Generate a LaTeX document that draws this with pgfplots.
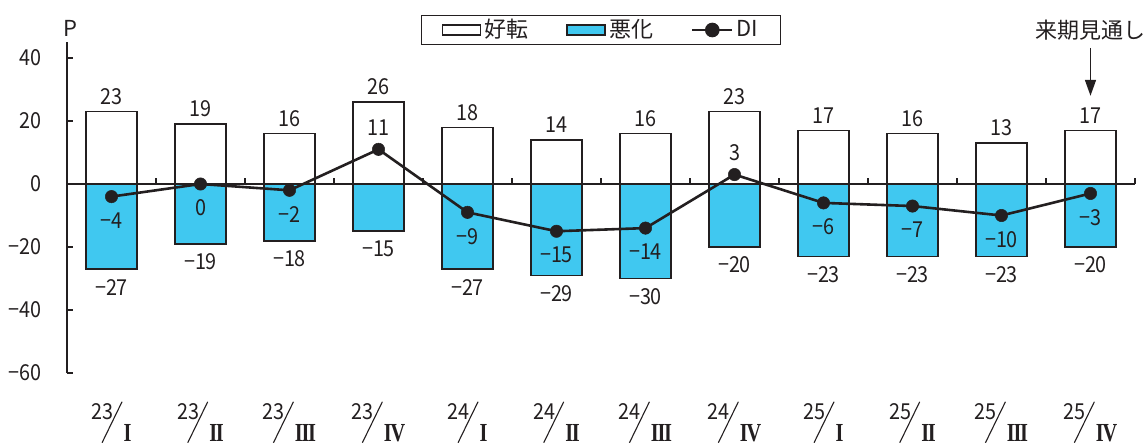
\documentclass[border=0pt]{standalone}
\usepackage{fontspec}
\usepackage{pgfplots}
\usepackage{pgfplotstable}
\pgfplotsset{compat=1.18}
\usetikzlibrary{arrows.meta}
\setmainfont{Noto Sans CJK JP}
\newfontfamily\numfont{Noto Sans CJK JP}[FakeStretch=0.9]
\newfontfamily\romfont{Liberation Serif}[FakeStretch=0.78, LetterSpace=-5]
\definecolor{worse}{HTML}{40C8F0}
\definecolor{ink}{HTML}{231F20}

% quarter label: year raised, a long thin slash, roman quarter on the baseline
\newcommand{\qlab}[2]{%
  \raisebox{22bp}{#1}\kern-12bp%
  \tikz[baseline=0pt]\draw[ink, line width=1.1bp] (0bp,-1bp) -- (20bp,40bp);%
  \kern1bp{\romfont\bfseries\fontsize{26bp}{26bp}\selectfont #2}}

\pgfplotstableread{
x good bad di goodlab badlab
0 23 -27 -4 23 −27
1 19 -19 0 19 −19
2 16 -18 -2 16 −18
3 26 -15 11 26 −15
4 18 -27 -9 18 −27
5 14 -29 -15 14 −29
6 16 -30 -14 16 −30
7 23 -20 3 23 −20
8 17 -23 -6 17 −23
9 16 -23 -7 16 −23
10 13 -23 -10 13 −23
11 17 -20 -3 17 −20
}\dichart

\begin{document}
\fontsize{22bp}{26bp}\selectfont
\begin{tikzpicture}
\useasboundingbox (-67bp,-73bp) rectangle (1078bp,373bp);
\begin{axis}[
  scale only axis,
  width=1068bp, height=330.75bp,
  xmin=-0.5, xmax=11.5, ymin=-60, ymax=45,
  clip=false,
  axis y line*=left, axis x line*=bottom,
  x axis line style={draw=none},
  y axis line style={draw=ink, line width=1.2bp},
  xtick={0,...,11},
  xticklabels={\qlab{23}{I},\qlab{23}{II},\qlab{23}{III},\qlab{23}{IV},
               \qlab{24}{I},\qlab{24}{II},\qlab{24}{III},\qlab{24}{IV},
               \qlab{25}{I},\qlab{25}{II},\qlab{25}{III},\qlab{25}{IV}},
  major x tick style={draw=none},
  ytick={-60,-40,-20,0,20,40},
  yticklabels={−60,−40,−20,0,20,40},
  tick align=inside, major tick length=6bp,
  ytick style={draw=ink, line width=1.2bp},
  yticklabel style={anchor=east, inner sep=0pt, xshift=-25bp, font=\numfont, text=ink},
  xticklabel style={anchor=north, inner sep=0pt, yshift=-28bp, font=\numfont, text=ink},
  legend columns=-1,
  legend style={at={(0.5,1.037)}, anchor=center, draw=ink, line width=1.2bp,
    inner xsep=20bp, inner ysep=2bp, text=ink,
    /tikz/every odd column/.append style={column sep=1bp},
    /tikz/every even column/.append style={column sep=36bp}},
]
% improved share (white) and worsened share (blue), both from the zero line
\addplot[ybar, bar width=51bp, bar shift=0pt, draw=ink, fill=white, line width=1.6bp,
  legend image code/.code={\draw[draw=ink, fill=white, line width=1.6bp] (0bp,-5bp) rectangle (38bp,5bp);}]
  table[x=x, y=good] {\dichart};
\addlegendentry{好転}
\addplot[ybar, bar width=51bp, bar shift=0pt, draw=ink, fill=worse, line width=1.6bp,
  legend image code/.code={\draw[draw=ink, fill=worse, line width=1.6bp] (0bp,-5bp) rectangle (38bp,5bp);}]
  table[x=x, y=bad] {\dichart};
\addlegendentry{悪化}

% zero line with small separators between quarters
\draw[ink, line width=1.2bp] (axis cs:-0.5,0) -- (axis cs:11.5,0);
\pgfplotsinvokeforeach{0.5,1.5,2.5,3.5,4.5,5.5,6.5,7.5,8.5,9.5,10.5,11.5}{
  \draw[ink, line width=1.2bp] (axis cs:#1,0) -- (axis cs:#1,1.9);
}

% diffusion index
\addplot[ink, line width=2.6bp, mark=*, mark size=6.2bp,
  mark options={fill=ink, draw=ink, line width=0.5bp},
  legend image code/.code={\draw[ink, line width=2.6bp] (0bp,0bp) -- (40bp,0bp); \fill[ink] (20bp,0bp) circle (6bp);}]
  table[x=x, y=di] {\dichart};
\addlegendentry{DI}

% value labels
\addplot[forget plot, draw=none, mark=none, nodes near coords, point meta=explicit symbolic,
  nodes near coords style={anchor=center, yshift=15bp, font=\numfont, text=ink}]
  table[x=x, y=good, meta=goodlab] {\dichart};
\addplot[forget plot, draw=none, mark=none, nodes near coords, point meta=explicit symbolic,
  nodes near coords style={anchor=center, yshift=-18bp, font=\numfont, text=ink}]
  table[x=x, y=bad, meta=badlab] {\dichart};
\addplot[forget plot, draw=none, mark=none, nodes near coords, point meta=explicit symbolic,
  nodes near coords style={anchor=center, yshift=-24bp, font=\numfont, text=ink}]
  coordinates {(0,-4) [−4] (1,0) [0] (2,-2) [−2] (4,-9) [−9] (5,-15) [−15] (6,-14) [−14]
               (8,-6) [−6] (9,-7) [−7] (10,-10) [−10] (11,-3) [−3]};
\addplot[forget plot, draw=none, mark=none, nodes near coords, point meta=explicit symbolic,
  nodes near coords style={anchor=center, yshift=22bp, font=\numfont, text=ink}]
  coordinates {(3,11) [11] (7,3) [3]};

% axis unit and outlook marker
\node[text=ink, inner sep=0pt] at (rel axis cs:0,1) [xshift=3bp, yshift=14bp] {P};
\node[text=ink, inner sep=0pt] at (axis cs:11,45) [yshift=12bp] {来期見通し};
\draw[ink, line width=1.5bp, -{Triangle[width=11bp,length=16bp]}] (axis cs:11,43.2) -- (axis cs:11,28);
\end{axis}
\end{tikzpicture}
\end{document}
